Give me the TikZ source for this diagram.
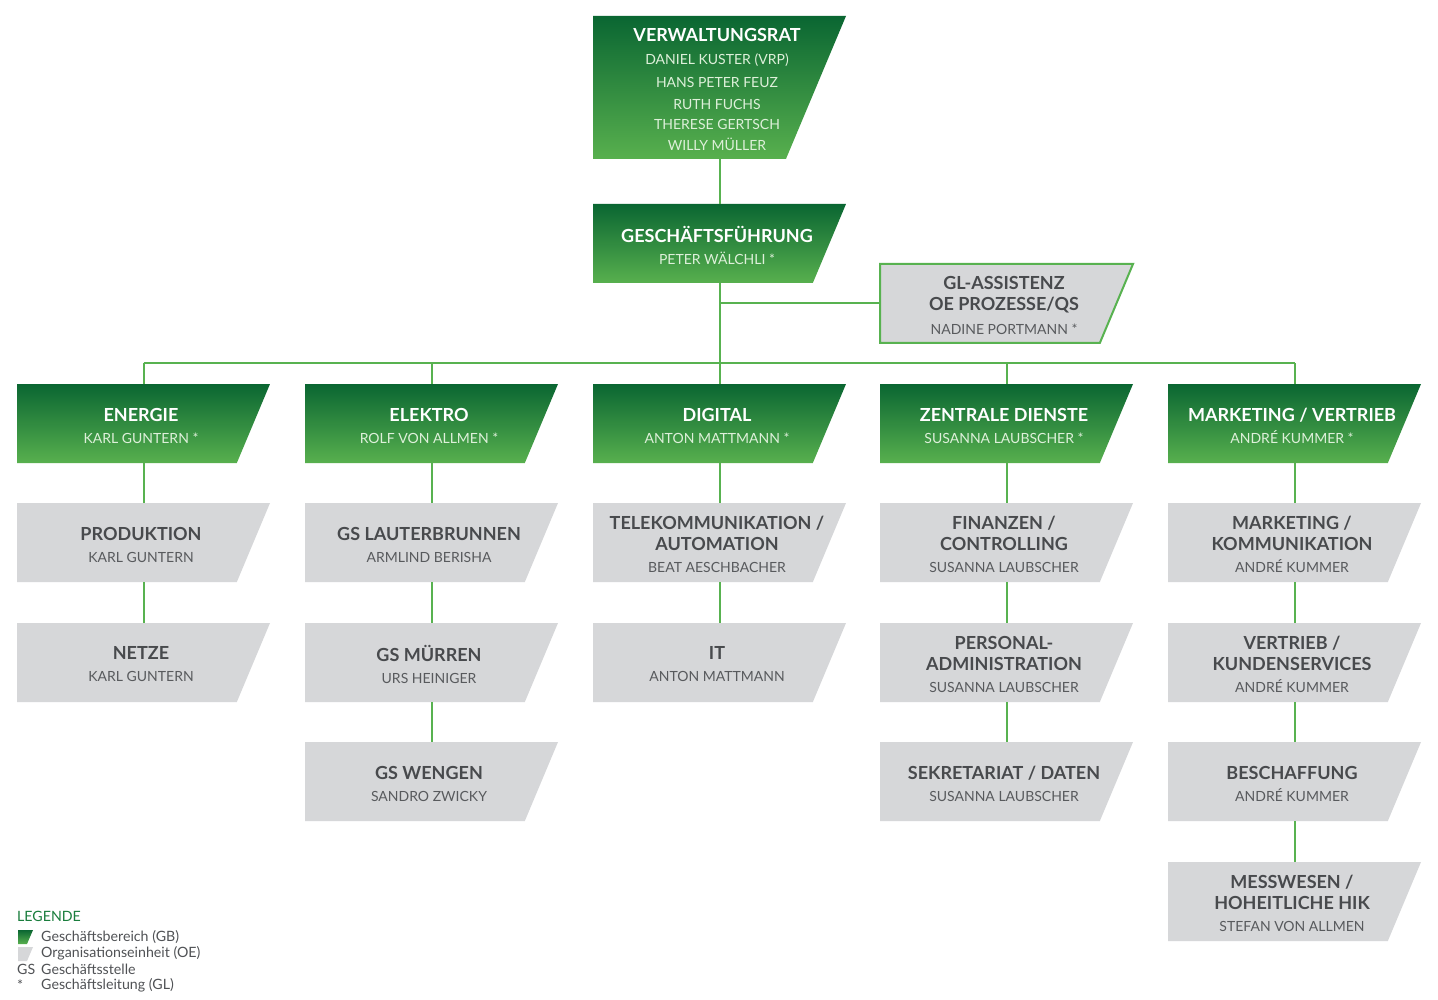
\documentclass[tikz,border=0pt]{standalone}
\usepackage{fontspec}
\setmainfont{Lato}
\definecolor{gdark}{RGB}{10,102,50}
\definecolor{glight}{RGB}{88,176,78}
\definecolor{lgreen}{RGB}{88,178,80}
\definecolor{ogrey}{RGB}{214,215,217}
\definecolor{ttext}{RGB}{72,74,77}
\definecolor{ntext}{RGB}{88,90,93}
\definecolor{gname}{RGB}{222,240,218}
\definecolor{leggreen}{RGB}{25,125,60}
\definecolor{legtext}{RGB}{80,82,85}
\newcommand\bxt{\fontsize{18}{22}\selectfont\bfseries}
\newcommand\bxg{\fontsize{14}{22}\selectfont\color{gname}}
\newcommand\bxn{\fontsize{14}{22}\selectfont\color{ntext}}
\tikzset{
  gbfill/.style={top color=gdark, bottom color=glight},
  oefill/.style={fill=ogrey},
  asfill/.style={fill=ogrey, draw=lgreen, line width=2pt},
  shapenode/.style={inner sep=0pt, minimum width=253pt},
  gbtext/.style={text=white, align=center, inner sep=0pt, font=\fontsize{15}{22}\selectfont},
  oetext/.style={text=ttext, align=center, inner sep=0pt, font=\fontsize{15}{22}\selectfont},
  astext/.style={oetext},
  conn/.style={draw=lgreen, line width=2pt},
  legtxt/.style={anchor=west, inner sep=0pt, text=legtext, font=\fontsize{14.2}{16}\selectfont},
}
% #1 style, #2 name, #3 left, #4 top, #5 height, #6 text
\newcommand\orgbox[6]{%
  \path[#1fill] (#3,#4) -- ++(253,0) -- ++({-0.42*#5},#5) -- (#3,{#4+#5}) -- cycle;
  \node[shapenode, minimum height=#5pt] (#2) at ({#3+126.5},{#4+#5/2}) {};
  \node[#1text] (#2-t) at ({#3+124},{#4+#5/2+2}) {#6};
}
\begin{document}
\begin{tikzpicture}[x=1pt,y=-1pt]
\fill[white] (0,0) rectangle (1438,1000);
\useasboundingbox (0,0) rectangle (1438,1000);

% top
\orgbox{gb}{vr}{593}{16}{143}{{\bxt VERWALTUNGSRAT}\\[1pt]{\bxg DANIEL KUSTER (VRP)}\\[1pt]{\bxg HANS PETER FEUZ}\\[0pt]{\bxg RUTH FUCHS}\\[-2pt]{\bxg THERESE GERTSCH}\\[-1pt]{\bxg WILLY MÜLLER}}
\orgbox{gb}{gf}{593}{204}{79}{{\bxt GESCHÄFTSFÜHRUNG}\\{\bxg PETER WÄLCHLI *}}
\orgbox{as}{glas}{880}{264}{79}{{\bxt GL-ASSISTENZ}\\[-1pt]{\bxt OE PROZESSE/QS}\\[2pt]{\bxn NADINE PORTMANN *}}

% row GB
\orgbox{gb}{energie}{17}{384}{79}{{\bxt ENERGIE}\\{\bxg KARL GUNTERN *}}
\orgbox{gb}{elektro}{305}{384}{79}{{\bxt ELEKTRO}\\{\bxg ROLF VON ALLMEN *}}
\orgbox{gb}{digital}{593}{384}{79}{{\bxt DIGITAL}\\{\bxg ANTON MATTMANN *}}
\orgbox{gb}{zentral}{880}{384}{79}{{\bxt ZENTRALE DIENSTE}\\{\bxg SUSANNA LAUBSCHER *}}
\orgbox{gb}{marketing}{1168}{384}{79}{{\bxt MARKETING / VERTRIEB}\\{\bxg ANDRÉ KUMMER *}}

% column 1
\orgbox{oe}{produktion}{17}{503}{79}{{\bxt PRODUKTION}\\{\bxn KARL GUNTERN}}
\orgbox{oe}{netze}{17}{623}{79}{{\bxt NETZE}\\{\bxn KARL GUNTERN}}
% column 2
\orgbox{oe}{lauter}{305}{503}{79}{{\bxt GS LAUTERBRUNNEN}\\{\bxn ARMLIND BERISHA}}
\orgbox{oe}{muerren}{305}{623}{79}{{\bxt GS MÜRREN}\\{\bxn URS HEINIGER}}
\orgbox{oe}{wengen}{305}{742}{79}{{\bxt GS WENGEN}\\{\bxn SANDRO ZWICKY}}
% column 3
\orgbox{oe}{telekom}{593}{503}{79}{{\bxt TELEKOMMUNIKATION /}\\[-1pt]{\bxt AUTOMATION}\\{\bxn BEAT AESCHBACHER}}
\orgbox{oe}{it}{593}{623}{79}{{\bxt IT}\\{\bxn ANTON MATTMANN}}
% column 4
\orgbox{oe}{finanzen}{880}{503}{79}{{\bxt FINANZEN /}\\[-1pt]{\bxt CONTROLLING}\\{\bxn SUSANNA LAUBSCHER}}
\orgbox{oe}{personal}{880}{623}{79}{{\bxt PERSONAL-}\\[-1pt]{\bxt ADMINISTRATION}\\{\bxn SUSANNA LAUBSCHER}}
\orgbox{oe}{sekretariat}{880}{742}{79}{{\bxt SEKRETARIAT / DATEN}\\{\bxn SUSANNA LAUBSCHER}}
% column 5
\orgbox{oe}{markom}{1168}{503}{79}{{\bxt MARKETING /}\\[-1pt]{\bxt KOMMUNIKATION}\\{\bxn ANDRÉ KUMMER}}
\orgbox{oe}{vertrieb}{1168}{623}{79}{{\bxt VERTRIEB /}\\[-1pt]{\bxt KUNDENSERVICES}\\{\bxn ANDRÉ KUMMER}}
\orgbox{oe}{beschaffung}{1168}{742}{79}{{\bxt BESCHAFFUNG}\\{\bxn ANDRÉ KUMMER}}
\orgbox{oe}{messwesen}{1168}{862}{79}{{\bxt MESSWESEN /}\\[-1pt]{\bxt HOHEITLICHE HIK}\\{\bxn STEFAN VON ALLMEN}}

% connectors
\coordinate (bus) at (719.5,363);
\draw[conn] (vr.south) -- (gf.north);
\draw[conn] (gf.south) -- (gf.south |- bus);
\draw[conn] (gf.south |- glas.west) -- (glas.west);
\draw[conn] (energie.north |- bus) -- (marketing.north |- bus);
\foreach \n in {energie,elektro,digital,zentral,marketing}
  \draw[conn] (\n.north) -- (\n.north |- bus);
\draw[conn] (energie.south) -- (produktion.north);
\draw[conn] (produktion.south) -- (netze.north);
\draw[conn] (elektro.south) -- (lauter.north);
\draw[conn] (lauter.south) -- (muerren.north);
\draw[conn] (muerren.south) -- (wengen.north);
\draw[conn] (digital.south) -- (telekom.north);
\draw[conn] (telekom.south) -- (it.north);
\draw[conn] (zentral.south) -- (finanzen.north);
\draw[conn] (finanzen.south) -- (personal.north);
\draw[conn] (personal.south) -- (sekretariat.north);
\draw[conn] (marketing.south) -- (markom.north);
\draw[conn] (markom.south) -- (vertrieb.north);
\draw[conn] (vertrieb.south) -- (beschaffung.north);
\draw[conn] (beschaffung.south) -- (messwesen.north);

% legend
\node[legtxt, text=leggreen] (legtitle) at (17,916) {LEGENDE};
\path[gbfill] (18,930) -- (33,930) -- (27,944) -- (18,944) -- cycle;
\path[oefill] (18,947) -- (33,947) -- (27,961) -- (18,961) -- cycle;
\node[legtxt] (leg1) at (41,937) {Geschäftsbereich (GB)};
\node[legtxt] (leg2) at (41,953) {Organisationseinheit (OE)};
\node[legtxt] (leggs) at (17,969) {GS};
\node[legtxt] (leg3) at (41,969) {Geschäftsstelle};
\node[legtxt] (legstar) at (17,985) {*};
\node[legtxt] (leg4) at (41,985) {Geschäftsleitung (GL)};
\end{tikzpicture}
\end{document}
